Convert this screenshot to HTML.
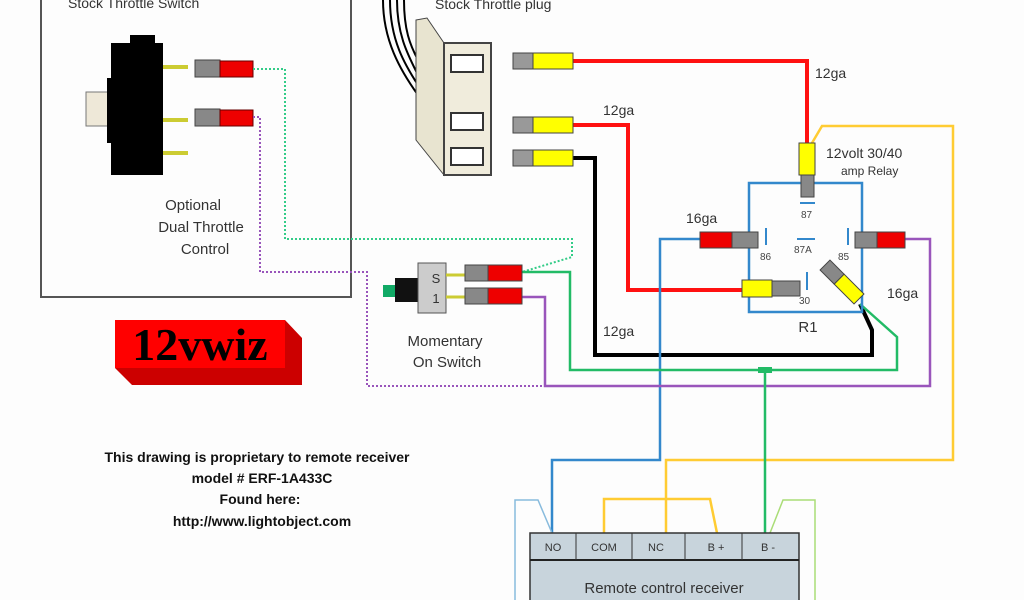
<!DOCTYPE html>
<html><head><meta charset="utf-8"><style>
html,body{margin:0;padding:0;background:#fff;}
svg{display:block;}
text{font-family:"Liberation Sans",Arial,sans-serif;}
</style></head><body>
<svg width="1024" height="600" viewBox="0 0 1024 600" xmlns="http://www.w3.org/2000/svg">
<rect width="1024" height="600" fill="#fdfdfd"/>
<!-- left box -->
<polyline points="41,0 41,297 351,297 351,0" fill="none" stroke="#555" stroke-width="2"/>
<text x="68" y="8" font-size="14" fill="#333">Stock Throttle Switch</text>
<text x="435" y="9" font-size="14" fill="#333">Stock Throttle plug</text>
<!-- switch -->
<path d="M111,92 A19,17 0 0 0 111,126 Z" fill="#eee8d8" stroke="#555"/>
<rect x="86" y="92" width="25" height="34" fill="#eee8d8" stroke="#777"/>
<rect x="111" y="43" width="52" height="132" fill="#000"/>
<rect x="130" y="35" width="25" height="10" fill="#000"/>
<rect x="107" y="78" width="6" height="65" fill="#000"/>
<g stroke="#cc3" stroke-width="4"><line x1="163" y1="67" x2="188" y2="67"/><line x1="163" y1="120" x2="188" y2="120"/><line x1="163" y1="153" x2="188" y2="153"/></g>
<g>
<rect x="195" y="60" width="25" height="17" fill="#888" stroke="#444"/><rect x="220" y="61" width="33" height="16" fill="#e00" stroke="#600"/>
<rect x="195" y="109" width="25" height="17" fill="#888" stroke="#444"/><rect x="220" y="110" width="33" height="16" fill="#e00" stroke="#600"/>
</g>
<text x="193" y="210" font-size="15" fill="#333" text-anchor="middle">Optional</text>
<text x="201" y="232" font-size="15" fill="#333" text-anchor="middle">Dual Throttle</text>
<text x="205" y="254" font-size="15" fill="#333" text-anchor="middle">Control</text>
<!-- dotted wires -->
<polyline points="253,69 285,69 285,239 572,239 572,257 522,272" fill="none" stroke="#3c8" stroke-width="2" stroke-dasharray="2,2"/>
<polyline points="253,117 260,117 260,272 367,272 367,386 545,386" fill="none" stroke="#95b" stroke-width="2" stroke-dasharray="2,2"/>
<!-- logo -->
<polygon points="115,320 285,320 302,338 302,385 132,385 115,368" fill="#c00"/>
<rect x="115" y="320" width="170" height="48" fill="#f00"/>
<text x="200" y="360" font-size="46" font-weight="bold" style="font-family:'Liberation Serif',serif" text-anchor="middle" fill="#000">12vwiz</text>
<!-- bold text -->
<g font-size="14" font-weight="bold" text-anchor="middle" fill="#111">
<text x="257" y="462">This drawing is proprietary to remote receiver</text>
<text x="262" y="483">model # ERF-1A433C</text>
<text x="260" y="504">Found here:</text>
<text x="262" y="526">http://www.lightobject.com</text>
</g>
<!-- plug cables -->
<g fill="none" stroke="#000" stroke-width="2">
<path d="M383,0 C383,40 400,70 418,95"/><path d="M390,0 C390,40 405,65 418,85"/><path d="M397,0 C397,35 408,55 418,75"/><path d="M404,0 C404,30 410,45 418,60"/>
</g>
<polygon points="416,20 427,18 444,43 444,175 416,140" fill="#e8e4d0" stroke="#444"/>
<rect x="444" y="43" width="47" height="132" fill="#f0ecdc" stroke="#444" stroke-width="2"/>
<g fill="#fff" stroke="#333" stroke-width="2"><rect x="451" y="55" width="32" height="17"/><rect x="451" y="113" width="32" height="17"/><rect x="451" y="148" width="32" height="17"/></g>
<!-- main wires -->
<polyline points="573,61 807,61 807,143" fill="none" stroke="#f11" stroke-width="4"/>
<polyline points="573,125 628,125 628,290 742,290" fill="none" stroke="#f11" stroke-width="4"/>
<polyline points="573,158 595,158 595,355 872,355 872,330 860,304" fill="none" stroke="#000" stroke-width="4"/>
<polyline points="812,143 822,126 953,126 953,460 666,460 666,533" fill="none" stroke="#fc3" stroke-width="2.5"/>
<polyline points="700,239 660,239 660,460 552,460 552,533" fill="none" stroke="#38c" stroke-width="2.5"/>
<polyline points="905,239 930,239 930,386 545,386 545,297 522,297" fill="none" stroke="#95b" stroke-width="2.5"/>
<polyline points="522,272 570,272 570,370 897,370 897,337 860,304" fill="none" stroke="#2b6" stroke-width="2.5"/>
<line x1="765" y1="370" x2="765" y2="533" stroke="#2b6" stroke-width="2.5"/>
<rect x="758" y="367" width="14" height="6" fill="#2b6"/>
<!-- plug connectors -->
<g stroke="#444">
<rect x="513" y="53" width="20" height="16" fill="#999"/><rect x="533" y="53" width="40" height="16" fill="#ff0"/>
<rect x="513" y="117" width="20" height="16" fill="#999"/><rect x="533" y="117" width="40" height="16" fill="#ff0"/>
<rect x="513" y="150" width="20" height="16" fill="#999"/><rect x="533" y="150" width="40" height="16" fill="#ff0"/>
</g>
<g font-size="14" fill="#333"><text x="815" y="78">12ga</text><text x="603" y="115">12ga</text><text x="603" y="336">12ga</text><text x="686" y="223">16ga</text><text x="887" y="298">16ga</text></g>
<!-- relay -->
<rect x="749" y="183" width="113" height="129" fill="none" stroke="#38c" stroke-width="2.5"/>
<text x="826" y="158" font-size="14" fill="#333">12volt 30/40</text>
<text x="841" y="175" font-size="12" fill="#333">amp Relay</text>
<text x="808" y="332" font-size="15" fill="#333" text-anchor="middle">R1</text>
<g stroke="#444">
<rect x="799" y="143" width="16" height="32" fill="#ff0"/><rect x="801" y="175" width="13" height="22" fill="#888"/>
<rect x="700" y="232" width="32" height="16" fill="#e00"/><rect x="732" y="232" width="26" height="16" fill="#888"/>
<rect x="855" y="232" width="22" height="16" fill="#888"/><rect x="877" y="232" width="28" height="16" fill="#e00"/>
<rect x="742" y="280" width="30" height="17" fill="#ff0"/><rect x="772" y="281" width="28" height="15" fill="#888"/>
<g transform="rotate(45 842 282)"><rect x="818" y="275" width="20" height="14" fill="#888"/><rect x="838" y="275" width="28" height="14" fill="#ff0"/></g>
</g>
<g stroke="#38c" stroke-width="2"><line x1="800" y1="203" x2="815" y2="203"/><line x1="766" y1="228" x2="766" y2="245"/><line x1="848" y1="228" x2="848" y2="245"/><line x1="797" y1="239" x2="815" y2="239"/><line x1="807" y1="272" x2="807" y2="290"/></g>
<g font-size="10" fill="#444"><text x="801" y="218">87</text><text x="760" y="260">86</text><text x="838" y="260">85</text><text x="794" y="253">87A</text><text x="799" y="304">30</text></g>
<!-- momentary switch -->
<rect x="383" y="285" width="12" height="12" fill="#1a6"/>
<rect x="395" y="278" width="23" height="24" fill="#111"/>
<rect x="418" y="263" width="28" height="50" fill="#ccc" stroke="#555"/>
<text x="436" y="283" font-size="13" fill="#333" text-anchor="middle">S</text><text x="436" y="303" font-size="13" fill="#333" text-anchor="middle">1</text>
<g stroke="#cc3" stroke-width="3"><line x1="446" y1="275" x2="465" y2="275"/><line x1="446" y1="297" x2="465" y2="297"/></g>
<g stroke="#444"><rect x="465" y="265" width="23" height="16" fill="#888"/><rect x="488" y="265" width="34" height="16" fill="#e00"/>
<rect x="465" y="288" width="23" height="16" fill="#888"/><rect x="488" y="288" width="34" height="16" fill="#e00"/></g>
<text x="445" y="346" font-size="15" fill="#333" text-anchor="middle">Momentary</text>
<text x="447" y="367" font-size="15" fill="#333" text-anchor="middle">On Switch</text>
<!-- receiver extras -->
<polyline points="515,600 515,500 538,500 552,533" fill="none" stroke="#8bd" stroke-width="1.5"/>
<polyline points="604,533 604,499 710,499 717,533" fill="none" stroke="#fc3" stroke-width="2.5"/>
<polyline points="770,533 783,500 815,500 815,600" fill="none" stroke="#ad7" stroke-width="1.5"/>
<rect x="530" y="533" width="269" height="70" fill="#c8d4dc" stroke="#333" stroke-width="1.5"/>
<line x1="530" y1="560" x2="799" y2="560" stroke="#222" stroke-width="2"/>
<g stroke="#333"><line x1="576" y1="533" x2="576" y2="560"/><line x1="632" y1="533" x2="632" y2="560"/><line x1="685" y1="533" x2="685" y2="560"/><line x1="742" y1="533" x2="742" y2="560"/></g>
<g font-size="11" fill="#333" text-anchor="middle"><text x="553" y="551">NO</text><text x="604" y="551">COM</text><text x="656" y="551">NC</text><text x="716" y="551">B +</text><text x="768" y="551">B -</text></g>
<text x="664" y="593" font-size="15" fill="#333" text-anchor="middle">Remote control receiver</text>
</svg>
</body></html>
